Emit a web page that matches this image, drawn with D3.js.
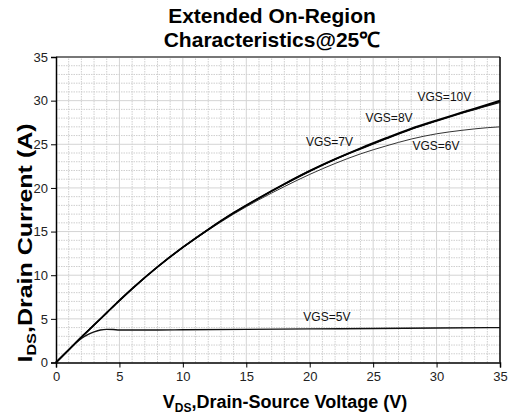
<!DOCTYPE html>
<html>
<head>
<meta charset="utf-8">
<script src="https://cdn.jsdelivr.net/npm/d3@7"></script>
<style>
  html, body { margin: 0; padding: 0; background: #fff; }
  svg { display: block; font-family: "Liberation Sans", Arial, sans-serif; }
</style>
</head>
<body>
<div id="chart"></div>
<script>
// VDS sample points (V) shared by the upper curves
const vds = [0, 1, 2, 3, 4, 5, 6, 8, 10, 12, 14, 16, 18, 20, 22, 24, 26, 28, 30, 32, 34, 35];
const vgs10 = [0, 1.45, 2.9, 4.3, 5.7, 7.1, 8.45, 10.95, 13.2, 15.25, 17.15, 18.85, 20.45, 21.95, 23.3, 24.55, 25.7, 26.8, 27.75, 28.65, 29.55, 30.0];
const vgs8 = [0, 1.45, 2.9, 4.3, 5.7, 7.1, 8.45, 10.95, 13.2, 15.25, 17.15, 18.85, 20.45, 21.95, 23.3, 24.5, 25.65, 26.75, 27.7, 28.6, 29.45, 29.9];
const vgs7 = [0, 1.45, 2.9, 4.3, 5.7, 7.1, 8.45, 10.95, 13.2, 15.25, 17.1, 18.8, 20.4, 21.9, 23.25, 24.45, 25.6, 26.7, 27.65, 28.55, 29.4, 29.8];
const vgs6 = [0, 1.45, 2.9, 4.3, 5.7, 7.1, 8.45, 10.95, 13.15, 15.15, 17.0, 18.65, 20.15, 21.55, 22.8, 23.9, 24.8, 25.6, 26.2, 26.6, 26.9, 27.0];
// VGS=5V saturates early, sampled more densely near the knee
const vds5 = [0, 1, 1.5, 2, 2.5, 3, 3.5, 4, 4.5, 5, 6, 8, 10, 15, 20, 25, 30, 35];
const vgs5 = [0, 1.45, 2.15, 2.75, 3.2, 3.5, 3.72, 3.8, 3.78, 3.73, 3.72, 3.73, 3.75, 3.8, 3.85, 3.9, 3.95, 4.0];

const curveNames = ['VGS=10V', 'VGS=8V', 'VGS=7V', 'VGS=6V', 'VGS=5V'];
// label anchor in data units (V, A)
const labelV = [28.5, 24.4, 19.7, 28.1, 19.5];
const labelI = [29.95, 27.6, 24.8, 24.3, 4.8];

const xTicks = [0, 5, 10, 15, 20, 25, 30, 35];
const yTicks = [0, 5, 10, 15, 20, 25, 30, 35];

const W = 510, H = 419;
const margin = { top: 57, right: 10, bottom: 56.5, left: 56 };

const svg = d3.select('#chart').append('svg')
  .attr('width', W)
  .attr('height', H);

const x = d3.scaleLinear().domain([0, 35]).range([margin.left, W - margin.right]);
const y = d3.scaleLinear().domain([0, 35]).range([H - margin.bottom, margin.top]);

// grid: dotted every 1 unit, solid every 5
const grid = svg.append('g').attr('class', 'grid');
d3.range(1, 35).forEach(v => {
  const major = v % 5 === 0;
  grid.append('line')
    .attr('x1', x(v)).attr('x2', x(v))
    .attr('y1', y(0)).attr('y2', y(35))
    .attr('stroke', major ? '#d4d4d4' : '#cfcfcf')
    .attr('stroke-width', 1)
    .attr('stroke-dasharray', major ? null : '1.5,1');
  grid.append('line')
    .attr('x1', x(0)).attr('x2', x(35))
    .attr('y1', y(v)).attr('y2', y(v))
    .attr('stroke', major ? '#d4d4d4' : '#cfcfcf')
    .attr('stroke-width', 1)
    .attr('stroke-dasharray', major ? null : '1.5,1');
});

// frame: top grey, right black
svg.append('line')
  .attr('x1', x(0)).attr('x2', x(35)).attr('y1', y(35)).attr('y2', y(35))
  .attr('stroke', '#777').attr('stroke-width', 2);
svg.append('line')
  .attr('x1', x(35)).attr('x2', x(35)).attr('y1', y(35)).attr('y2', y(0))
  .attr('stroke', '#000').attr('stroke-width', 1.5);

// axes
const xAxis = svg.append('g')
  .attr('transform', `translate(0,${y(0)})`)
  .call(d3.axisBottom(x).tickValues(xTicks).tickSize(5).tickPadding(4));
const yAxis = svg.append('g')
  .attr('transform', `translate(${x(0)},0)`)
  .call(d3.axisLeft(y).tickValues(yTicks).tickSize(5).tickPadding(3));
[xAxis, yAxis].forEach(g => {
  g.select('.domain').attr('stroke', '#000').attr('stroke-width', 1.5);
  g.selectAll('.tick line').attr('stroke', '#000');
  g.selectAll('.tick text')
    .attr('fill', '#222')
    .style('font-size', '13px')
    .style('font-family', '"Liberation Sans", Arial, sans-serif');
});

// curves
const line = d3.line()
  .x(d => x(d[0]))
  .y(d => y(d[1]))
  .curve(d3.curveMonotoneX);

const series = [
  { pts: d3.zip(vds, vgs6), color: '#333', width: 1 },
  { pts: d3.zip(vds5, vgs5), color: '#111', width: 1.4 },
  { pts: d3.zip(vds, vgs7), color: '#111', width: 1.2 },
  { pts: d3.zip(vds, vgs8), color: '#111', width: 1.2 },
  { pts: d3.zip(vds, vgs10), color: '#000', width: 1.8 }
];
svg.append('g').selectAll('path')
  .data(series)
  .join('path')
  .attr('fill', 'none')
  .attr('stroke', d => d.color)
  .attr('stroke-width', d => d.width)
  .attr('d', d => line(d.pts));

// curve labels
svg.append('g').selectAll('text')
  .data(curveNames)
  .join('text')
  .attr('x', (d, i) => x(labelV[i]))
  .attr('y', (d, i) => y(labelI[i]))
  .attr('font-size', 12)
  .attr('fill', '#111')
  .text(d => d);

// title
const title = svg.append('text')
  .attr('text-anchor', 'middle')
  .attr('font-size', 21)
  .attr('font-weight', 'bold')
  .attr('fill', '#000');
title.append('tspan').attr('x', 272).attr('y', 23).text('Extended On-Region');
title.append('tspan').attr('x', 272).attr('y', 47).text('Characteristics@25℃');

// x label
const xl = svg.append('text')
  .attr('x', 285)
  .attr('y', 408)
  .attr('text-anchor', 'middle')
  .attr('font-size', 18)
  .attr('font-weight', 'bold');
xl.append('tspan').text('V');
xl.append('tspan').attr('font-size', 12).attr('dy', 4).text('DS');
xl.append('tspan').attr('dy', -4).text(',Drain-Source Voltage (V)');

// y label (stretched along its length in the original)
const yl = svg.append('text')
  .attr('transform', 'translate(32,243) rotate(-90) scale(1.25,1)')
  .attr('text-anchor', 'middle')
  .attr('font-size', 20)
  .attr('font-weight', 'bold');
yl.append('tspan').text('I');
yl.append('tspan').attr('font-size', 13).attr('dy', 4).text('DS');
yl.append('tspan').attr('dy', -4).text(',Drain Current (A)');
</script>
</body>
</html>
